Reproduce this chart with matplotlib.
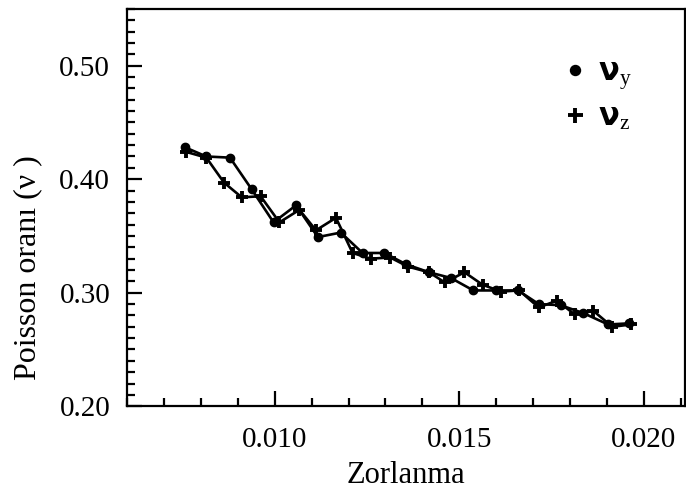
import matplotlib
matplotlib.use('Agg')
import matplotlib.pyplot as plt
from matplotlib.ticker import MultipleLocator, FormatStrFormatter

plt.rcParams['font.family'] = ['Liberation Serif', 'DejaVu Serif']
plt.rcParams['mathtext.fontset'] = 'custom'
plt.rcParams['mathtext.rm'] = 'Liberation Serif'
plt.rcParams['mathtext.it'] = 'Liberation Serif:italic'

# Poisson ratio nu_y (circles)
strain_y = [0.00758, 0.00815, 0.00879, 0.00938, 0.00997, 0.01058, 0.01117,
            0.01179, 0.01238, 0.01297, 0.01356, 0.01418, 0.01477, 0.01538,
            0.01600, 0.01659, 0.01715, 0.01774, 0.01836, 0.01903, 0.01959]
nu_y = [0.428, 0.420, 0.419, 0.391, 0.362, 0.377, 0.349, 0.353, 0.335, 0.335,
        0.325, 0.318, 0.313, 0.302, 0.302, 0.302, 0.290, 0.289, 0.282, 0.272,
        0.273]

# Poisson ratio nu_z (plus)
strain_z = [0.00761, 0.00815, 0.00863, 0.00911, 0.00962, 0.01013, 0.01067,
            0.01112, 0.01166, 0.01211, 0.01260, 0.01313, 0.01361, 0.01418,
            0.01461, 0.01514, 0.01563, 0.01613, 0.01662, 0.01715, 0.01764,
            0.01812, 0.01863, 0.01914, 0.01965]
nu_z = [0.424, 0.419, 0.397, 0.384, 0.385, 0.362, 0.373, 0.355, 0.366, 0.335,
        0.330, 0.331, 0.323, 0.318, 0.309, 0.318, 0.307, 0.301, 0.302, 0.287,
        0.293, 0.281, 0.284, 0.270, 0.272]

fig = plt.figure(figsize=(6.86, 4.96), dpi=100)
ax = fig.add_axes([0.185, 0.181, 0.813, 0.801])

ax.plot(strain_y, nu_y, color='black', lw=1.9, marker='o', ms=6,
        label=r'$\mathbf{\nu}_{\mathrm{y}}$')
ax.plot(strain_z, nu_z, color='black', lw=1.9, marker='+', ms=9, mew=2.8,
        label=r'$\mathbf{\nu}_{\mathrm{z}}$')

ax.set_xlim(0.006, 0.0211)
ax.set_ylim(0.20, 0.55)
ax.xaxis.set_major_locator(MultipleLocator(0.005))
ax.xaxis.set_minor_locator(MultipleLocator(0.001))
ax.yaxis.set_major_locator(MultipleLocator(0.10))
ax.yaxis.set_minor_locator(MultipleLocator(0.01))
ax.xaxis.set_major_formatter(FormatStrFormatter('%.3f'))
ax.yaxis.set_major_formatter(FormatStrFormatter('%.2f'))
ax.set_xticks([0.010, 0.015, 0.020])

ax.tick_params(which='both', direction='in', top=False, right=False,
               width=1.6, labelsize=21)
ax.tick_params(which='major', length=11)
ax.tick_params(which='minor', length=5.5)
ax.tick_params(axis='x', pad=15)
ax.tick_params(axis='y', pad=12)
for s in ax.spines.values():
    s.set_linewidth(1.6)

ax.set_xlabel('Zorlanma', fontsize=22, labelpad=6)
ax.set_ylabel('Poisson oranı (ν )', fontsize=23)
ax.yaxis.set_label_coords(-0.152, 0.35)

leg = ax.legend(loc='upper right', frameon=False, fontsize=22,
                handlelength=0.6, handletextpad=0.45, labelspacing=0.38,
                markerscale=1.2, bbox_to_anchor=(0.955, 0.945))
for h in leg.legend_handles:
    h.set_linestyle('none')

fig.savefig('out.png', dpi=100)
